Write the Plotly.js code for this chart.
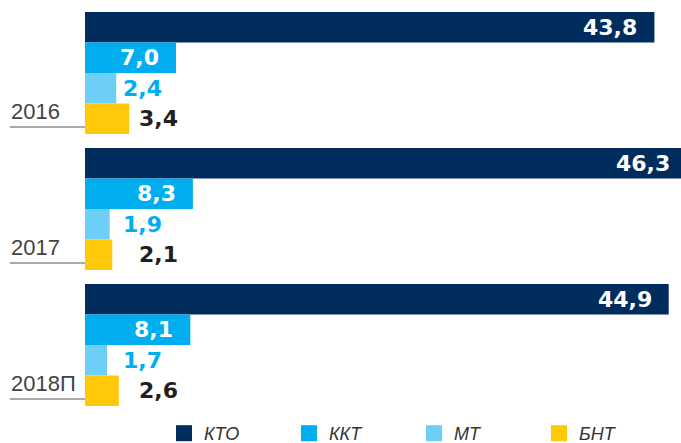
<!DOCTYPE html>
<html>
<head>
<meta charset="utf-8">
<script src="https://cdn.plot.ly/plotly-3.0.1.min.js"></script>
<style>
html,body{margin:0;padding:0;background:#fff;overflow:hidden;}
#chart{width:681px;height:443px;}
</style>
</head>
<body>
<div id="chart"></div>
<script>
// ---- data ----
const years = ['2016', '2017', '2018П'];
const seriesNames = ['КТО', 'ККТ', 'МТ', 'БНТ'];
const kto = [43.8, 46.3, 44.9];
const kkt = [7.0, 8.3, 8.1];
const mt = [2.4, 1.9, 1.7];
const bnt = [3.4, 2.1, 2.6];

// ---- styling ----
const colors = ['#012d5e', '#00aeef', '#6dcff6', '#ffc90a'];
const fmt = v => v.toFixed(1).replace('.', ',');
const W = 681, H = 443, ML = 85, MR = 0, MT = 5, MB = 30;
const pxPerUnit = 13.0;
const xMax = (W - ML - MR) / pxPerUnit;
const valueFont = {family: 'DejaVu Sans, sans-serif', size: 22, weight: 700};

function barTrace(name, values, color) {
  return {
    type: 'bar', orientation: 'h', name: name, legendgroup: name, showlegend: false,
    y: years, x: values, textposition: 'none',
    marker: {color: color, line: {width: 0}},
    hoverinfo: 'x+name'
  };
}
// legend entries with 16px square swatches
function legendTrace(name, color) {
  return {
    type: 'scatter', mode: 'markers', name: name, legendgroup: name,
    x: [null], y: [null], showlegend: true, hoverinfo: 'skip',
    marker: {symbol: 'square', size: 16, color: color, line: {width: 0}}
  };
}

const data = [
  barTrace(seriesNames[0], kto, colors[0]),
  barTrace(seriesNames[1], kkt, colors[1]),
  barTrace(seriesNames[2], mt, colors[2]),
  barTrace(seriesNames[3], bnt, colors[3])
].concat(seriesNames.map((n, k) => legendTrace(n, colors[k])));

const catPx = (H - MT - MB) / 3;
const bargap = 0.103;
const barPx = catPx * (1 - bargap) / 4;
const rowShift = row => -((row - 1.5) * barPx);

const annotations = [];
const shapes = [];
const plotW = W - ML - MR;

// labels inside the bar end (bars may run past the right edge: clamp the anchor)
function insideLabel(v, i, row) {
  const xa = Math.min(v, xMax);
  return {
    xref: 'x', yref: 'y', x: xa, y: i, yshift: rowShift(row),
    xshift: (v - xa) * pxPerUnit - 15,
    text: fmt(v), showarrow: false, xanchor: 'right', yanchor: 'middle',
    font: Object.assign({color: '#ffffff'}, valueFont)
  };
}

years.forEach((yr, i) => {
  annotations.push(insideLabel(kto[i], i, 0));
  annotations.push(insideLabel(kkt[i], i, 1));
  annotations.push({
    xref: 'x', yref: 'y', x: 2.8, y: i, yshift: rowShift(2),
    text: fmt(mt[i]), showarrow: false, xanchor: 'left', yanchor: 'middle',
    font: Object.assign({color: '#00aeef'}, valueFont)
  });
  annotations.push({
    xref: 'x', yref: 'y', x: 4.0, y: i, yshift: rowShift(3),
    text: fmt(bnt[i]), showarrow: false, xanchor: 'left', yanchor: 'middle',
    font: Object.assign({color: '#231f20'}, valueFont)
  });
  annotations.push({
    xref: 'paper', yref: 'y', x: (9 - ML) / plotW, y: i, yshift: -38,
    text: yr, showarrow: false, xanchor: 'left', yanchor: 'middle',
    font: {family: 'Liberation Sans, Arial, sans-serif', size: 22, color: '#444444'}
  });
  shapes.push({
    type: 'line', xref: 'paper', yref: 'y',
    x0: (10 - ML) / plotW, x1: 0, y0: i + 0.397, y1: i + 0.397,
    line: {color: '#555555', width: 1.2}
  });
});

const layout = {
  width: W, height: H,
  margin: {l: ML, r: MR, t: MT, b: MB, pad: 0},
  paper_bgcolor: '#ffffff', plot_bgcolor: '#ffffff',
  barmode: 'group', bargap: bargap, bargroupgap: 0,
  xaxis: {range: [0, xMax], visible: false, fixedrange: true},
  yaxis: {type: 'category', range: [2.5, -0.5], visible: false, fixedrange: true},
  showlegend: true,
  legend: {
    orientation: 'h', xref: 'container', yref: 'container',
    x: 164 / W, xanchor: 'left', y: 1 - 415 / H, yanchor: 'top',
    entrywidth: 80, entrywidthmode: 'pixels',
    font: {family: 'Liberation Sans, Arial, sans-serif', size: 18, color: '#333333', style: 'italic'},
    bgcolor: 'rgba(0,0,0,0)', traceorder: 'normal'
  },
  annotations: annotations,
  shapes: shapes
};

Plotly.newPlot('chart', data, layout, {displayModeBar: false, staticPlot: true});
</script>
</body>
</html>
